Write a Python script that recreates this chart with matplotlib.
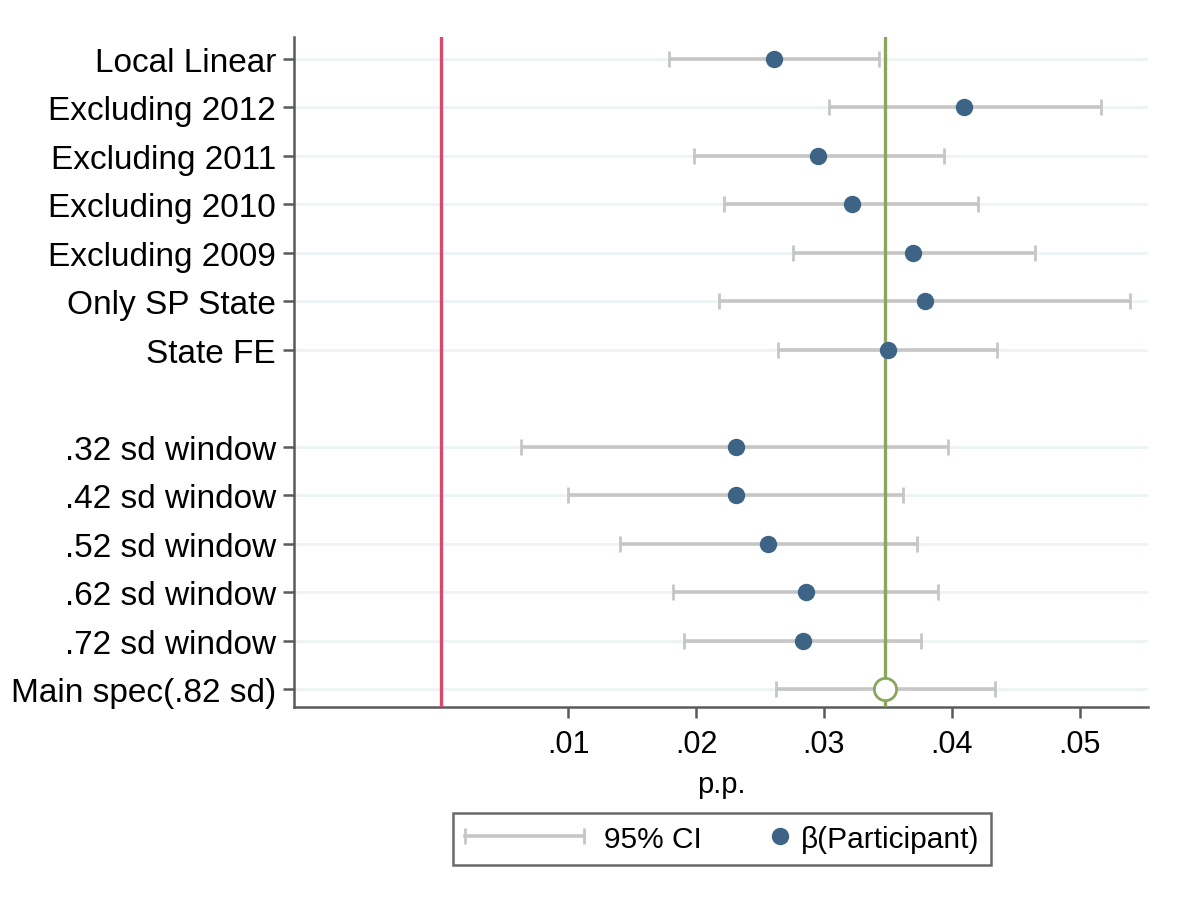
import matplotlib
matplotlib.use("Agg")
import matplotlib.pyplot as plt
from matplotlib.lines import Line2D
from matplotlib.legend_handler import HandlerLine2D, HandlerBase

plt.rcParams['font.family'] = ['Liberation Sans', 'DejaVu Sans']

# specifications, top to bottom (None = empty row)
labels = ["Local Linear", "Excluding 2012", "Excluding 2011", "Excluding 2010",
          "Excluding 2009", "Only SP State", "State FE", None,
          ".32 sd window", ".42 sd window", ".52 sd window", ".62 sd window",
          ".72 sd window", "Main spec(.82 sd)"]
beta = [0.02611, 0.04092, 0.02955, 0.03218, 0.03696, 0.03792, 0.03498, None,
        0.02314, 0.02314, 0.02562, 0.02856, 0.02839, 0.03480]
ci_lo = [0.01785, 0.03038, 0.01984, 0.02215, 0.02755, 0.02181, 0.02642, None,
         0.00628, 0.00994, 0.01407, 0.01820, 0.01904, 0.02628]
ci_hi = [0.03433, 0.05164, 0.03942, 0.04207, 0.04652, 0.05391, 0.04354, None,
         0.03973, 0.03616, 0.03725, 0.03893, 0.03763, 0.04337]
xticks = [0.01, 0.02, 0.03, 0.04, 0.05]
xticklabels = [".01", ".02", ".03", ".04", ".05"]

dot_col = "#3d6485"
ci_col = "#c6c6c6"
red_col = "#d84a6c"
green_col = "#8aa65e"
axis_col = "#5a5a5a"

fig = plt.figure(figsize=(11.78, 9.03), dpi=100)
ax = fig.add_axes([0.2496, 0.216, 0.725, 0.742])

n = len(labels)
ypos = [n - 1 - i for i in range(n)]
rows = [i for i in range(n) if labels[i] is not None]
main = n - 1

for i in rows:
    ax.axhline(ypos[i], color="#eef4f6", lw=2, zorder=0)

for i in rows:
    ax.errorbar(beta[i], ypos[i], xerr=[[beta[i] - ci_lo[i]], [ci_hi[i] - beta[i]]],
                fmt="none", ecolor=ci_col, elinewidth=2.6, capsize=5.5,
                capthick=2, zorder=2)

ax.axvline(0, color=red_col, lw=2.4, zorder=3)
ax.axvline(beta[main], color=green_col, lw=2.4, zorder=3)

for i in rows:
    if i == main:
        ax.plot(beta[i], ypos[i], "o", ms=16, mfc="white", mec=green_col,
                mew=2, zorder=4)
    else:
        ax.plot(beta[i], ypos[i], "o", ms=11.5, color=dot_col, zorder=4)

ax.set_xlim(-0.01146, 0.05536)
ax.set_ylim(-0.37, n - 1 + 0.45)
ax.set_yticks([ypos[i] for i in rows])
ax.set_yticklabels([labels[i] for i in rows], fontsize=24)
ax.set_xticks(xticks)
ax.set_xticklabels(xticklabels, fontsize=22)
ax.set_xlabel("p.p.", fontsize=21, labelpad=8)

for s in ["top", "right"]:
    ax.spines[s].set_visible(False)
for s in ["left", "bottom"]:
    ax.spines[s].set_color(axis_col)
    ax.spines[s].set_linewidth(1.8)
ax.tick_params(axis="both", colors=axis_col, width=1.8, length=8, labelcolor="black")
ax.tick_params(axis="y", pad=5)
ax.tick_params(axis="x", pad=8)


# legend dot sits at the right end of its handle box
class DotRight(HandlerBase):
    def create_artists(self, legend, orig_handle, xdescent, ydescent,
                       width, height, fontsize, trans):
        m = Line2D([width - xdescent - 0.05 * fontsize], [(height - ydescent) / 2],
                   ls="none", marker="o", ms=11.5, color=dot_col)
        m.set_transform(trans)
        return [m]


ci_handle = Line2D([0, 1], [0, 0], color=ci_col, lw=2.6, marker="|", ms=11, mew=2)
dot_handle = Line2D([0], [0], ls="none", marker="o", ms=11.5, color=dot_col)
leg = fig.legend([ci_handle, dot_handle], ["95% CI", "β(Participant)"],
                 loc="center", bbox_to_anchor=(0.613, 0.07), ncol=2,
                 fontsize=21.5, handlelength=4.0, handletextpad=0.67,
                 columnspacing=-1.35, fancybox=False, borderpad=0.4,
                 handler_map={ci_handle: HandlerLine2D(numpoints=2, marker_pad=0),
                              dot_handle: DotRight()})
leg.get_frame().set_edgecolor("#444444")
leg.get_frame().set_linewidth(1.8)

fig.savefig("out.png", dpi=100)
